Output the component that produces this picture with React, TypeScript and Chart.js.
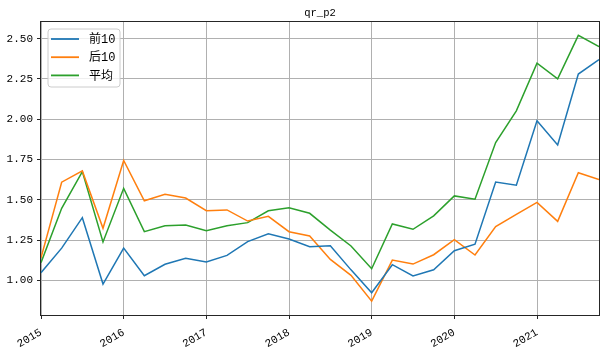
import React, { useEffect, useRef } from "react";
import { Chart, registerables } from "chart.js";

Chart.register(...registerables);

const chartTitle = "qr_p2";
const startYear = 2015;
const yearLabels = ["2015", "2016", "2017", "2018", "2019", "2020", "2021"];
// quarterly points, 2015Q1 .. 2021Q4 (index = quarter number from 2015Q1)
const seriesNames = ["前10", "后10", "平均"];
const top10 = [
  1.047, 1.2, 1.389, 0.977, 1.2, 1.029, 1.1, 1.137,
  1.114, 1.155, 1.24, 1.289, 1.257, 1.209, 1.215, 1.065,
  0.923, 1.097, 1.027, 1.066, 1.184, 1.224, 1.61, 1.59,
  1.99, 1.84, 2.28, 2.37,
];
const bottom10 = [
  1.14, 1.609, 1.679, 1.323, 1.744, 1.494, 1.534, 1.511,
  1.432, 1.437, 1.368, 1.397, 1.302, 1.275, 1.13, 1.031,
  0.871, 1.126, 1.101, 1.159, 1.252, 1.157, 1.333, 1.41,
  1.484, 1.366, 1.668, 1.625,
];
const average = [
  1.11, 1.447, 1.675, 1.238, 1.571, 1.302, 1.339, 1.343,
  1.308, 1.339, 1.358, 1.432, 1.451, 1.416, 1.312, 1.213,
  1.072, 1.35, 1.317, 1.4, 1.524, 1.503, 1.855, 2.052,
  2.348, 2.25, 2.52, 2.45,
];
const yTicks = [1.0, 1.25, 1.5, 1.75, 2.0, 2.25, 2.5];
const colors = ["#1f77b4", "#ff7f0e", "#2ca02c"];

const TICK_FONT = "'Liberation Mono', 'Noto Sans CJK SC', monospace";

const overlayPlugin = {
  id: "overlay",
  afterDatasetsDraw(chart: any) {
    const { ctx, chartArea: a } = chart;
    ctx.save();
    // frame
    ctx.strokeStyle = "#262626";
    ctx.lineWidth = 1;
    ctx.strokeRect(a.left - 0.5, a.top - 0.5, a.right - a.left + 1, a.bottom - a.top + 1);
    // title
    ctx.fillStyle = "#000";
    ctx.font = "10.5px " + TICK_FONT;
    ctx.textAlign = "center";
    ctx.textBaseline = "middle";
    ctx.fillText(chartTitle, (a.left + a.right) / 2, 13);
    // legend
    const bx = a.left + 7, by = a.top + 7, bw = 72, bh = 58, r = 3;
    ctx.beginPath();
    ctx.moveTo(bx + r, by);
    ctx.lineTo(bx + bw - r, by);
    ctx.quadraticCurveTo(bx + bw, by, bx + bw, by + r);
    ctx.lineTo(bx + bw, by + bh - r);
    ctx.quadraticCurveTo(bx + bw, by + bh, bx + bw - r, by + bh);
    ctx.lineTo(bx + r, by + bh);
    ctx.quadraticCurveTo(bx, by + bh, bx, by + bh - r);
    ctx.lineTo(bx, by + r);
    ctx.quadraticCurveTo(bx, by, bx + r, by);
    ctx.closePath();
    ctx.fillStyle = "rgba(255,255,255,0.8)";
    ctx.fill();
    ctx.strokeStyle = "#cccccc";
    ctx.stroke();
    ctx.font = "12px " + TICK_FONT;
    ctx.textAlign = "left";
    ctx.textBaseline = "middle";
    seriesNames.forEach((name, i) => {
      const y = by + 10 + i * 18.2;
      ctx.strokeStyle = colors[i];
      ctx.lineWidth = 1.8;
      ctx.beginPath();
      ctx.moveTo(bx + 3, y);
      ctx.lineTo(bx + 31, y);
      ctx.stroke();
      ctx.fillStyle = "#000";
      ctx.fillText(name, bx + 41, y + 1);
    });
    ctx.restore();
  },
};

export default function App() {
  const ref = useRef<HTMLCanvasElement | null>(null);
  useEffect(() => {
    if (!ref.current) return;
    const series = [top10, bottom10, average];
    const chart = new Chart(ref.current, {
      type: "line",
      data: {
        datasets: series.map((vals, i) => ({
          label: seriesNames[i],
          data: vals.map((v, j) => ({ x: j, y: v })),
          borderColor: colors[i],
          backgroundColor: colors[i],
          borderWidth: 1.5,
          pointRadius: 0,
          tension: 0,
          fill: false,
        })),
      },
      options: {
        responsive: false,
        animation: false,
        devicePixelRatio: 1,
        layout: { padding: { top: 22, right: 6, left: 0, bottom: 0 } },
        plugins: {
          legend: { display: false },
          title: { display: false },
          tooltip: { enabled: false },
        },
        scales: {
          x: {
            type: "linear",
            min: 0,
            max: top10.length - 1,
            afterBuildTicks: (s: any) => {
              s.ticks = yearLabels.map((_, k) => ({ value: k * 4 }));
            },
            afterFit: (s: any) => {
              s.height = 37;
            },
            ticks: {
              minRotation: 30,
              maxRotation: 30,
              autoSkip: false,
              padding: 7,
              color: "#000",
              font: { family: TICK_FONT, size: 11 },
              callback: (v: any) => String(startYear + Math.round(Number(v) / 4)),
            },
            grid: { color: "#b0b0b0", lineWidth: 1, tickColor: "#262626", tickLength: 4 },
            border: { display: false },
          },
          y: {
            type: "linear",
            min: 0.785,
            max: 2.603,
            afterBuildTicks: (s: any) => {
              s.ticks = yTicks.map((v) => ({ value: v }));
            },
            afterFit: (s: any) => {
              s.width = 41;
            },
            ticks: {
              padding: 4,
              color: "#000",
              font: { family: TICK_FONT, size: 11 },
              callback: (v: any) => Number(v).toFixed(2),
            },
            grid: { color: "#b0b0b0", lineWidth: 1, tickColor: "#262626", tickLength: 4 },
            border: { display: false },
          },
        },
      },
      plugins: [overlayPlugin],
    });
    return () => chart.destroy();
  }, []);
  return (
    <canvas
      ref={ref}
      width={605}
      height={352}
      style={{ position: "absolute", left: 0, top: 0, width: 605, height: 352 }}
    />
  );
}
